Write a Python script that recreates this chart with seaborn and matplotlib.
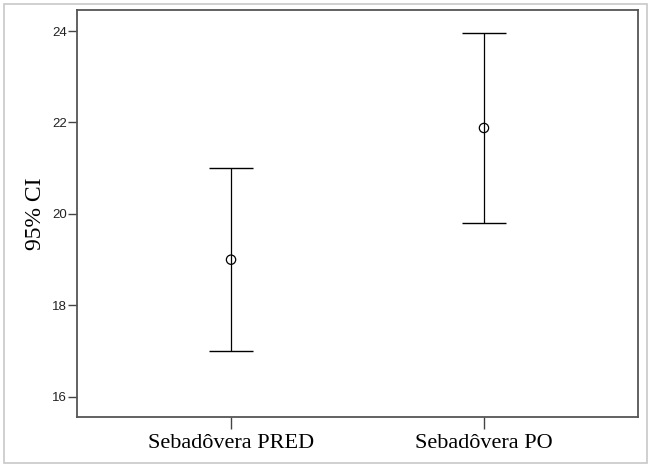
import matplotlib
matplotlib.use("Agg")
import matplotlib.pyplot as plt
import seaborn as sns
import pandas as pd
from matplotlib.patches import Rectangle

categories = ["Sebadôvera PRED", "Sebadôvera PO"]
means = [19.0, 21.88]
lower = [17.0, 19.80]
upper = [21.0, 23.96]
yticks = [16, 18, 20, 22, 24]

df = pd.DataFrame({"group": categories, "mean": means, "lower": lower, "upper": upper})

sns.set_style("white")
plt.rcParams["font.family"] = ["Liberation Sans", "DejaVu Sans"]

fig = plt.figure(figsize=(6.52, 4.67), dpi=100)
W, H = 652, 467
ax = fig.add_axes([77 / W, 1 - 417 / H, (638 - 77) / W, (417 - 10) / H])

pos = list(range(len(categories)))
err_lo = [m - l for m, l in zip(df["mean"], df["lower"])]
err_hi = [u - m for m, u in zip(df["mean"], df["upper"])]
ax.errorbar(pos, df["mean"], yerr=[err_lo, err_hi], fmt="none", ecolor="black",
            elinewidth=0.9, capsize=15.8, capthick=1.0)
sns.scatterplot(data=df, x="group", y="mean", ax=ax, marker="o", s=45,
                facecolor="none", edgecolor="black", linewidth=0.9, zorder=5)

ax.set_xlim(-0.609, 1.609)
ax.set_ylim(15.56, 24.46)
ax.set_yticks(yticks)
ax.set_yticklabels([str(t) for t in yticks], fontsize=9.5, color="#222222")
ax.set_xticks(pos)
ax.set_xticklabels(categories, fontsize=16, family=["Liberation Serif"], color="black")
ax.set_xlabel("")
ax.set_ylabel("95% CI", fontsize=17, family=["Liberation Serif"], color="black", labelpad=4)
ax.tick_params(axis="y", direction="out", length=6.5, width=1.0, color="#444444", left=True, pad=1)
ax.tick_params(axis="x", direction="out", length=8.6, width=1.0, color="#444444", bottom=True, pad=4)
for s in ax.spines.values():
    s.set_visible(True)
    s.set_color("#555555")
    s.set_linewidth(1.3)

fig.patches.append(Rectangle((4 / W, 4 / H), (647 - 4) / W, (463 - 4) / H,
                             transform=fig.transFigure, fill=False,
                             edgecolor="#c8c8c8", linewidth=1.2))

fig.savefig("out.png", dpi=100)
